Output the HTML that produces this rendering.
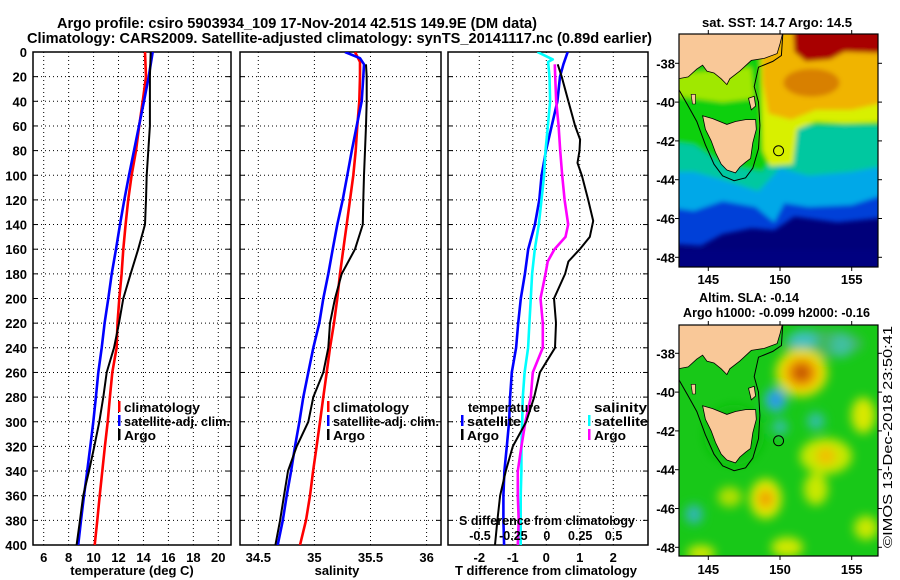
<!DOCTYPE html>
<html><head><meta charset="utf-8"><style>
html,body{margin:0;padding:0;background:#fff;}
svg{display:block;font-family:"Liberation Sans",sans-serif;font-weight:bold;}
</style></head><body>
<svg id="chart" width="900" height="580" viewBox="0 0 900 580" xmlns="http://www.w3.org/2000/svg">
<defs>
<clipPath id="clipP1"><rect x="33" y="52" width="198" height="493"/></clipPath>
<clipPath id="clipP2"><rect x="240" y="52" width="201" height="493"/></clipPath>
<clipPath id="clipP3"><rect x="448" y="52" width="200" height="493"/></clipPath>
<clipPath id="clipM1"><rect x="679" y="34" width="199" height="233"/></clipPath>
<clipPath id="clipM2"><rect x="679" y="325" width="199" height="231"/></clipPath>
<filter id="blur1" x="-20%" y="-20%" width="140%" height="140%"><feGaussianBlur stdDeviation="2.5"/></filter>
<filter id="blur2" x="-50%" y="-50%" width="200%" height="200%"><feGaussianBlur stdDeviation="5"/></filter>
</defs>
<rect width="900" height="580" fill="#fff"/>
<text x="57" y="28" font-size="15" textLength="480" lengthAdjust="spacingAndGlyphs">Argo profile: csiro 5903934_109 17-Nov-2014 42.51S 149.9E (DM data)</text>
<text x="27" y="43" font-size="15" textLength="625" lengthAdjust="spacingAndGlyphs">Climatology: CARS2009. Satellite-adjusted climatology: synTS_20141117.nc (0.89d earlier)</text>
<g id="plots"></g>
<g id="maps"></g>
<text transform="translate(892,548) rotate(-90)" font-size="13" font-weight="normal" textLength="222" lengthAdjust="spacingAndGlyphs">©IMOS 13-Dec-2018 23:50:41</text>
</svg>
<script>
// ---------- DATA ----------
const depthTicks = [0,20,40,60,80,100,120,140,160,180,200,220,240,260,280,300,320,340,360,380,400];
const tempTicks = [6,8,10,12,14,16,18,20];
const salTicks = [34.5,35,35.5,36];
const tdiffTicks = [-2,-1,0,1,2];
const sdiffTicks = [-0.5,-0.25,0,0.25,0.5];
const sdiffTickLabels = ["-0.5","-0.25","0","0.25","0.5"];

const stdDepths = [0,20,40,60,80,100,120,140,160,180,200,220,240,260,280,300,320,340,360,380,400];
const tempClim = [14.12,14.2,13.94,13.66,13.4,13.05,12.78,12.57,12.38,12.25,12.06,11.92,11.85,11.5,11.31,11.13,10.91,10.7,10.49,10.3,10.09];
const tempSat  = [14.74,14.42,14.04,13.64,13.24,12.84,12.46,12.12,11.8,11.45,11.18,10.88,10.65,10.38,10.19,9.98,9.74,9.49,9.23,8.99,8.77];
const tempArgo = [14.58,14.52,14.52,14.52,14.39,14.26,14.2,14.12,13.58,12.97,12.38,12.04,11.64,11.05,10.78,10.46,10.06,9.63,9.17,8.91,8.64];

const salClimDepths = [0,8,20,40,60,80,100,120,140,160,180,200,220,240,260,280,300,320,340,360,380,400];
const salClim = [35.362,35.406,35.406,35.4,35.382,35.368,35.347,35.317,35.288,35.258,35.228,35.204,35.175,35.139,35.11,35.079,35.05,35.02,34.988,34.961,34.925,34.872];
const salSatDepths = [0,5,10,20,40,60,80,100,120,140,160,180,200,220,240,260,280,300,320,340,360,380,400];
const salSat = [35.273,35.406,35.442,35.436,35.422,35.377,35.333,35.293,35.252,35.204,35.163,35.124,35.079,35.044,34.99,34.946,34.901,34.866,34.827,34.792,34.753,34.718,34.673];
const salArgoDepths = [10,20,40,60,80,100,120,140,160,180,200,220,240,260,280,300,320,340,360,380,400];
const salArgo = [35.46,35.466,35.466,35.46,35.451,35.442,35.436,35.431,35.362,35.243,35.184,35.139,35.124,35.079,34.99,34.946,34.842,34.765,34.729,34.694,34.652];

const tdSatDepths = [0,10,20,40,60,80,100,120,140,160,180,200,220,240,260,280,300,320,340,360,380,400];
const tdSat = [0.64,0.51,0.41,0.33,0.16,-0.01,-0.14,-0.21,-0.34,-0.54,-0.64,-0.76,-0.84,-0.9,-1.03,-1.08,-1.11,-1.18,-1.25,-1.28,-1.28,-1.26];
const tdArgoDepths = [10,20,40,60,71,80,90,100,120,137,150,160,170,180,200,220,240,260,280,300,320,340,360,380,400];
const tdArgo = [0.34,0.46,0.66,0.86,1.01,0.99,0.93,1.06,1.25,1.4,1.3,1.0,0.66,0.56,0.23,0.29,0.26,-0.19,-0.36,-0.6,-1.0,-1.21,-1.38,-1.46,-1.53];
const sdSatDepths = [0,6,8,20,40,60,80,100,120,140,160,180,200,220,240,260,280,300,320,340,360,380,400];
const sdSat = [-0.07,0.045,0.01,0.02,0.025,0.008,-0.01,-0.02,-0.04,-0.06,-0.09,-0.11,-0.12,-0.13,-0.14,-0.166,-0.18,-0.184,-0.19,-0.19,-0.195,-0.195,-0.195];
const sdArgoDepths = [10,20,40,60,80,100,120,140,150,160,170,180,200,220,240,260,280,300,320,340,360,380,400];
const sdArgo = [0.06,0.063,0.07,0.088,0.1,0.115,0.133,0.16,0.14,0.058,0.007,-0.01,-0.047,-0.03,-0.03,-0.105,-0.12,-0.16,-0.19,-0.217,-0.217,-0.21,-0.217];

const latTicks = [-38,-40,-42,-44,-46,-48];
const lonTicks = [145,150,155];

// ---------- SCALES ----------
const NS = "http://www.w3.org/2000/svg";
const yD = d => 52 + d*1.2325;
const xT = v => 43.7 + (v-6)*12.47;
const xS = v => 258.3 + (v-34.5)*112.2;
const xTD = v => 546.3 + v*33.5;
const xSD = v => 546.8 + v*133.6;
const labelWidths = {"climatology":76,"satellite-adj. clim.":106,"Argo":32,"satellite":54};
function mk(tag, attrs, parent){const e=document.createElementNS(NS,tag);for(const k in attrs)e.setAttribute(k,attrs[k]);parent.appendChild(e);return e;}
const plots = document.getElementById('plots');

function panel(name, x0, x1, ticks, xs, labels, clipId, xtitle, titleX){
  const g = mk('g',{},plots);
  
  
  const grid = mk('g',{},g);
  
  
  depthTicks.forEach(d=>{ if(d>0&&d<400) mk('line',{x1:x0,x2:x1,y1:yD(d),y2:yD(d),stroke:'#000','stroke-width':1,'stroke-dasharray':'1,3'},grid);
    mk('line',{x1:x0,x2:x0+5,y1:yD(d),y2:yD(d),stroke:'#000'},grid);
    mk('line',{x1:x1-5,x2:x1,y1:yD(d),y2:yD(d),stroke:'#000'},grid);});
  ticks.forEach((t,i)=>{const x=xs(t);
    mk('line',{x1:x,x2:x,y1:52,y2:545,stroke:'#000','stroke-width':1,'stroke-dasharray':'1,3'},grid);
    const tl = mk('text',{x:x,y:562,'font-size':13,'text-anchor':'middle'},g);
    tl.textContent = labels[i];
    
    
  });
  const fr = mk('rect',{x:x0,y:52,width:x1-x0,height:493,fill:'none',stroke:'#000','stroke-width':1.5},g);
  
  
  const xt = mk('text',{x:titleX,y:575,'font-size':13,'text-anchor':'middle'},g);
  xt.textContent = xtitle;
  
  
  return g;
}
function series(g, name, depths, vals, xs, color, w, clipId){
  const pts = vals.map((v,i)=>xs(v).toFixed(1)+','+yD(depths[i]).toFixed(1)).join(' ');
  const p = mk('polyline',{points:pts,fill:'none',stroke:color,'stroke-width':w,'stroke-linejoin':'round','clip-path':'url(#'+clipId+')'},g);
  
  
}
function legend(g, name, x, y, color, label){
  const b = mk('rect',{x:x,y:y-11,width:2.5,height:11,fill:color},g);
  
  
  const t = mk('text',{x:x+6,y:y,'font-size':13,textLength:labelWidths[label],lengthAdjust:'spacingAndGlyphs'},g);
  t.textContent = label;
  
  
}

// y-axis labels
depthTicks.forEach(d=>{const t=mk('text',{x:27,y:yD(d)+5,'font-size':13,'text-anchor':'end'},plots);
  t.textContent=d;
  
  });

const p1 = panel('temperature',33,231,tempTicks,xT,tempTicks.map(String),'clipP1','temperature (deg C)',132);
series(p1,'temp-climatology-line',stdDepths,tempClim,xT,'#f00',2.6,'clipP1');
series(p1,'temp-satellite-line',stdDepths,tempSat,xT,'#00f',2.6,'clipP1');
series(p1,'temp-argo-line',stdDepths,tempArgo,xT,'#000',2,'clipP1');
legend(p1,'legend-climatology',118,412,'#f00','climatology');
legend(p1,'legend-satellite-adj',118,426,'#00f','satellite-adj. clim.');
legend(p1,'legend-argo',118,440,'#000','Argo');

const p2 = panel('salinity',240,441,salTicks,xS,["34.5","35","35.5","36"],'clipP2','salinity',337);
series(p2,'sal-climatology-line',salClimDepths,salClim,xS,'#f00',2.6,'clipP2');
series(p2,'sal-satellite-line',salSatDepths,salSat,xS,'#00f',2.6,'clipP2');
series(p2,'sal-argo-line',salArgoDepths,salArgo,xS,'#000',2,'clipP2');
legend(p2,'legend-climatology-sal',327,412,'#f00','climatology');
legend(p2,'legend-satellite-adj-sal',327,426,'#00f','satellite-adj. clim.');
legend(p2,'legend-argo-sal',327,440,'#000','Argo');

const p3 = panel('difference',448,648,tdiffTicks,xTD,tdiffTicks.map(String),'clipP3','T difference from climatology',546);
series(p3,'tdiff-satellite-line',tdSatDepths,tdSat,xTD,'#00f',2.6,'clipP3');
series(p3,'sdiff-satellite-line',sdSatDepths,sdSat,xSD,'#0ff',2.6,'clipP3');
series(p3,'sdiff-argo-line',sdArgoDepths,sdArgo,xSD,'#f0f',2.6,'clipP3');
series(p3,'tdiff-argo-line',tdArgoDepths,tdArgo,xTD,'#000',2,'clipP3');
(function(){const t=mk('text',{x:468,y:412,'font-size':13,textLength:72,lengthAdjust:'spacingAndGlyphs'},p3);t.textContent='temperature';
 
 
 const s=mk('text',{x:594,y:412,'font-size':13,textLength:53,lengthAdjust:'spacingAndGlyphs'},p3);s.textContent='salinity';
 
 })();
legend(p3,'legend-t-satellite',461,426,'#00f','satellite');
legend(p3,'legend-t-argo',461,440,'#000','Argo');
legend(p3,'legend-s-satellite',588,426,'#0ff','satellite');
legend(p3,'legend-s-argo',588,440,'#f0f','Argo');
(function(){const t=mk('text',{x:459,y:525,'font-size':13,textLength:176,lengthAdjust:'spacingAndGlyphs'},p3);t.textContent='S difference from climatology';
 
 
 sdiffTicks.forEach((v,i)=>{const l=mk('text',{x:xSD(v),y:540,'font-size':12.5,'text-anchor':'middle'},p3);
  l.textContent=sdiffTickLabels[i];
  
  });})();

// ---------- MAPS ----------
const maps = document.getElementById('maps');
const mxL = lon => 708.3 + (lon-145)*14.34;
function mapProj(top){ return {x:mxL, y: lat => top + (-38-lat)*19.4}; }
const land1 = [[142.9,-36.4],[142.9,-38.8],[143.6,-38.7],[144.2,-38.3],[144.6,-38.1],[144.9,-38.4],[145.4,-38.5],[145.9,-38.8],[146.3,-39.1],[146.5,-38.8],[147.2,-38.4],[148,-37.85],[148.9,-37.75],[149.8,-37.5],[150.0,-37.0],[150.2,-36.4]];
const tas = [[144.6,-40.7],[145.3,-40.85],[146.3,-41.15],[146.9,-41.0],[147.6,-40.9],[148.3,-40.9],[148.35,-41.4],[148.1,-42.1],[147.95,-42.9],[147.6,-43.1],[147.2,-43.35],[146.9,-43.65],[146.3,-43.5],[145.9,-43.2],[145.5,-42.6],[145.2,-42.0],[144.8,-41.4]];
const isobath = [[142.9,-39.3],[143.6,-40.2],[144.2,-41.0],[144.8,-42.2],[145.4,-43.2],[146.0,-43.8],[146.8,-44.05],[147.6,-43.9],[148.1,-43.4],[148.5,-42.4],[148.6,-41.2],[148.5,-40.0],[148.2,-39.2],[148.5,-38.2],[149.5,-37.9],[150.1,-37.6],[150.2,-36.4]];
function poly(g,pts,P,attrs){const a=Object.assign({points:pts.map(p=>P.x(p[0]).toFixed(1)+','+P.y(p[1]).toFixed(1)).join(' ')},attrs);return mk('polygon',a,g);}
function pline(g,pts,P,attrs){const a=Object.assign({points:pts.map(p=>P.x(p[0]).toFixed(1)+','+P.y(p[1]).toFixed(1)).join(' '),fill:'none'},attrs);return mk('polyline',a,g);}

function mapFrame(name, clip){
  const g = mk('g',{},maps);
  
  
  const inner = mk('g',{'clip-path':'url(#'+clip+')'},g);
  return {g, inner};
}
function mapAxes(g, name, top, bottom, P, lonY){
  mk('rect',{x:679,y:top,width:199,height:bottom-top,fill:'none',stroke:'#000','stroke-width':1.2},g);
  latTicks.forEach(l=>{const y=P.y(l);
    mk('line',{x1:878,x2:882,y1:y,y2:y,stroke:'#000'},g);
    mk('line',{x1:675,x2:679,y1:y,y2:y,stroke:'#000'},g);
    const t=mk('text',{x:675,y:y+5,'font-size':13,'text-anchor':'end'},g);
    t.textContent=String(l);
    
    });
  lonTicks.forEach(l=>{const x=P.x(l);
    mk('line',{x1:x,x2:x,y1:top-4,y2:top,stroke:'#000'},g);
    mk('line',{x1:x,x2:x,y1:bottom,y2:bottom+4,stroke:'#000'},g);
    const t=mk('text',{x:x,y:lonY,'font-size':13,'text-anchor':'middle'},g);
    t.textContent=String(l);
    
    });
}
function landAndMarker(inner,P){
  poly(inner,land1,P,{fill:'#f9c898',stroke:'#000','stroke-width':0.8});
  poly(inner,tas,P,{fill:'#f9c898',stroke:'#000','stroke-width':0.8});
  poly(inner,[[147.8,-39.8],[148.2,-39.7],[148.3,-40.2],[148.0,-40.4]],P,{fill:'#f9c898',stroke:'#000','stroke-width':0.8});
  poly(inner,[[143.8,-39.6],[144.1,-39.6],[144.1,-40.1],[143.9,-40.1]],P,{fill:'#f9c898',stroke:'#000','stroke-width':0.6});
  pline(inner,isobath,P,{stroke:'#000','stroke-width':1});
  const c = mk('circle',{cx:P.x(149.9),cy:P.y(-42.51),r:5,fill:'none',stroke:'#000','stroke-width':1},inner);
  
  
}

// SST map
(function(){
  const P = mapProj(63.3);
  const {g,inner} = mapFrame('sst-map','clipM1');
  mk('rect',{x:679,y:34,width:199,height:233,fill:'#00007a'},inner);
  const b = mk('g',{filter:'url(#blur1)'},inner);
  poly(b,[[142,-36],[158,-36],[158,-45.9],[154,-46.2],[151,-45.9],[149.6,-46.6],[148,-46.5],[146,-46.8],[144.5,-47.4],[142,-47.3]],P,{fill:'#0040d8'});
  poly(b,[[142,-36],[158,-36],[158,-44.6],[155,-45.3],[152,-45.4],[150.3,-45.2],[149.6,-46.2],[148.3,-45.4],[146,-45.1],[144,-45.6],[142,-45.4]],P,{fill:'#00a8e8'});
  poly(b,[[142,-36],[158,-36],[158,-43.2],[155,-43.6],[152,-43.8],[150,-43.4],[148.5,-44.6],[146,-44.0],[144,-43.6],[142,-43.6]],P,{fill:'#00c8a0'});
  poly(b,[[142,-36],[158,-36],[158,-41.2],[153,-41.2],[150.8,-41.2],[148.8,-43.6],[146,-43.2],[144,-42.2],[142,-42.0]],P,{fill:'#10d010'});
  poly(b,[[148.6,-36],[158,-36],[158,-41.0],[154.5,-41.1],[152.5,-41.0],[151.2,-41.4],[150.9,-43.2],[149.3,-43.3],[148.8,-42.5],[148.7,-40]],P,{fill:'#d8f000'});
  poly(b,[[142,-38.6],[148,-38.2],[148.2,-39.8],[146,-40.0],[144,-39.8],[142,-39.6]],P,{fill:'#a0e800'});
  poly(b,[[148.7,-36],[158,-36],[158,-39.9],[155,-40.4],[152.5,-40.4],[150.8,-40.9],[149.2,-40.6],[148.8,-39]],P,{fill:'#f0b400'});
  mk('ellipse',{cx:P.x(152.2),cy:P.y(-39.0),rx:28,ry:14,fill:'#d88000'},b);
  poly(b,[[150.9,-36],[158,-36],[158,-37.5],[154.5,-37.4],[153.5,-37.8],[151.8,-37.9],[151.0,-37.4]],P,{fill:'#a80000'});
  mk('rect',{x:679,y:P.y(-47.6),width:199,height:30,fill:'#000080'},b);
  landAndMarker(inner,P);
  mapAxes(g,'sst-map',34,267,P,284);
  const t=mk('text',{x:702,y:27,'font-size':13,textLength:150,lengthAdjust:'spacingAndGlyphs'},g);
  t.textContent='sat. SST: 14.7 Argo: 14.5';
  
  
})();

// SLA map
(function(){
  const P = mapProj(353.3);
  const {g,inner} = mapFrame('sla-map','clipM2');
  mk('rect',{x:679,y:325,width:199,height:231,fill:'#18c818'},inner);
  const b = mk('g',{filter:'url(#blur2)'},inner);
  const blob=(lon,lat,rx,ry,c)=>mk('ellipse',{cx:P.x(lon),cy:P.y(lat),rx:rx,ry:ry,fill:c},b);
  blob(153,-37.5,40,14,'#40b860');
  blob(151.6,-37.3,14,9,'#40c0c0'); blob(154.3,-37.6,10,12,'#40c0a0');
  blob(151.5,-39.0,26,24,'#e8e000'); blob(151.5,-39.0,16,15,'#f09000'); blob(151.5,-39.0,8,8,'#c05000');
  blob(149.7,-40.4,11,12,'#30b0e0'); blob(149.7,-40.4,5,5,'#2080e0');
  blob(150,-41.8,8,8,'#30c0a0'); blob(152.5,-41.5,9,9,'#30c0a0');
  blob(155.8,-41.2,12,18,'#d8e800');
  blob(153.2,-43.3,26,18,'#c8e800'); blob(153.2,-43.3,10,9,'#f0c000');
  blob(149.0,-45.5,16,20,'#e0e800'); blob(149.0,-45.5,8,9,'#f0a000');
  blob(152.5,-45.0,12,16,'#c8e800');
  blob(146.5,-45.4,12,10,'#b0e000');
  blob(144.0,-46.3,9,10,'#30b8b0');
  blob(150.5,-48.0,16,10,'#d0e800'); blob(144.5,-48.3,14,8,'#d0e800'); blob(156,-47,12,12,'#c8e800');
  blob(146.8,-42.2,30,30,'#10c010');
  landAndMarker(inner,P);
  mapAxes(g,'sla-map',325,556,P,574);
  const t1=mk('text',{x:699,y:302,'font-size':13,textLength:100,lengthAdjust:'spacingAndGlyphs'},g);
  t1.textContent='Altim. SLA: -0.14';
  
  
  const t2=mk('text',{x:683,y:317,'font-size':13,textLength:187,lengthAdjust:'spacingAndGlyphs'},g);
  t2.textContent='Argo h1000: -0.099 h2000: -0.16';
  
  
})();
</script>
</body></html>
